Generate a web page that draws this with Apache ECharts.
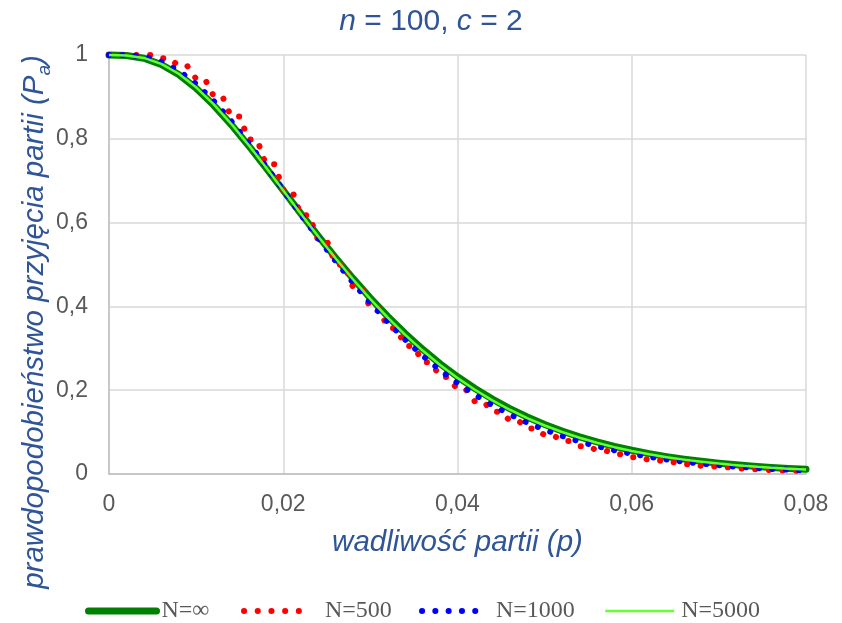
<!DOCTYPE html>
<html>
<head>
<meta charset="utf-8">
<script src="https://cdn.jsdelivr.net/npm/echarts@6/dist/echarts.min.js"></script>
<style>
html,body{margin:0;padding:0;background:#ffffff;}
#chart{width:842px;height:623px;}
</style>
</head>
<body>
<div id="chart"></div>
<script>
// ---- data ----
const pFine = [0,0.001,0.002,0.003,0.004,0.005,0.006,0.007,0.008,0.009,0.010,0.011,0.012,0.013,0.014,0.015,0.016,0.017,0.018,0.019,0.020,0.021,0.022,0.023,0.024,0.025,0.026,0.027,0.028,0.029,0.030,0.031,0.032,0.033,0.034,0.035,0.036,0.037,0.038,0.039,0.040,0.041,0.042,0.043,0.044,0.045,0.046,0.047,0.048,0.049,0.050,0.051,0.052,0.053,0.054,0.055,0.056,0.057,0.058,0.059,0.060,0.061,0.062,0.063,0.064,0.065,0.066,0.067,0.068,0.069,0.070,0.071,0.072,0.073,0.074,0.075,0.076,0.077,0.078,0.079,0.080];
const pCoarse = [0,0.002,0.004,0.006,0.008,0.010,0.012,0.014,0.016,0.018,0.020,0.022,0.024,0.026,0.028,0.030,0.032,0.034,0.036,0.038,0.040,0.042,0.044,0.046,0.048,0.050,0.052,0.054,0.056,0.058,0.060,0.062,0.064,0.066,0.068,0.070,0.072,0.074,0.076,0.078,0.080];

const paInf = [1,0.99888,0.99225,0.97730,0.95327,0.92063,0.88054,0.83453,0.78421,0.73112,0.67669,0.62212,0.56844,0.51645,0.46674,0.41977,0.37583,0.33507,0.29756,0.26328,0.23214,0.20403,0.17877,0.15619,0.13609,0.11826,0.10252,0.08867,0.07651,0.06588,0.05661,0.04855,0.04156,0.03551,0.03029,0.02579,0.02192,0.01861,0.01577,0.01334,0.01127];
const pa500 = [1,1,1,1,1,1,0.99219,0.99219,0.97334,0.97334,0.94301,0.94301,0.90236,0.90236,0.85336,0.85336,0.79826,0.79826,0.73927,0.73927,0.67841,0.67841,0.61741,0.61741,0.55763,0.55763,0.50016,0.50016,0.44577,0.44577,0.39497,0.39497,0.34808,0.34808,0.30523,0.30523,0.26642,0.26642,0.23156,0.23156,0.20044,0.20044,0.17286,0.17286,0.14855,0.14855,0.12723,0.12723,0.10863,0.10863,0.09247,0.09247,0.07849,0.07849,0.06645,0.06645,0.05611,0.05611,0.04727,0.04727,0.03972,0.03972,0.03331,0.03331,0.02787,0.02787,0.02327,0.02327,0.01939,0.01939,0.01613,0.01613,0.01339,0.01339,0.01109,0.01109,0.00918,0.00918,0.00758,0.00758,0.00625];
const pa1000 = [1,1,0.99639,0.98448,0.96256,0.93077,0.89029,0.84286,0.79034,0.73457,0.67723,0.61973,0.56327,0.50871,0.45684,0.40811,0.36273,0.32093,0.28277,0.24815,0.21700,0.18907,0.16420,0.14217,0.12271,0.10564,0.09070,0.07767,0.06637,0.05657,0.04812,0.04084,0.03459,0.02924,0.02468,0.02079,0.01747,0.01467,0.01230,0.01029,0.00860];
const pa5000 = [1,0.99899,0.99300,0.97874,0.95522,0.92280,0.88266,0.83636,0.78557,0.73191,0.67680,0.62166,0.56739,0.51487,0.46471,0.41736,0.37314,0.33218,0.29454,0.26020,0.22906,0.20101,0.17584,0.15338,0.13343,0.11576,0.10019,0.08651,0.07453,0.06407,0.05497,0.04707,0.04023,0.03432,0.02923,0.02485,0.02109,0.01788,0.01513,0.01278,0.01078];

const xTickLabels = ['0','0,02','0,04','0,06','0,08'];
const yTickLabels = ['0','0,2','0,4','0,6','0,8','1'];
const seriesNames = ['N=\u221E','N=500','N=1000','N=5000'];

const titleText = '{i|n} = 100, {i|c} = 2';
const xAxisTitle = 'wadliwość partii (p)';
const yAxisTitleMain = 'prawdopodobieństwo przyjęcia partii (P';
const yAxisTitleSub = 'a';

function pairs(xs, ys) { return xs.map(function (x, i) { return [x, ys[i]]; }); }

const TITLE_BLUE = '#2F5597';
const GRAY_TXT = '#595959';
const SANS = 'Liberation Sans, Arial, sans-serif';
const SERIF = 'Liberation Serif, Times New Roman, serif';

const chart = echarts.init(document.getElementById('chart'), null, {renderer: 'canvas'});

function legendBox(name, left, width, lineW, padLeft) {
  return {
    data: [{name: name}],
    left: left, top: 599,
    orient: 'horizontal',
    padding: 0, itemGap: 0,
    itemWidth: width, itemHeight: 24,
    selectedMode: false,
    lineStyle: {width: lineW},
    itemStyle: {color: 'rgba(0,0,0,0)', borderWidth: 0, opacity: 0},
    textStyle: {fontFamily: SERIF, fontSize: 24, lineHeight: 24, color: GRAY_TXT, padding: [0, 0, 0, padLeft]}
  };
}

const option = {
  animation: false,
  backgroundColor: '#ffffff',
  grid: {left: 109, right: 36, top: 55, bottom: 149},
  xAxis: {
    type: 'value', min: 0, max: 0.08, interval: 0.02,
    axisLine: {show: true, onZero: false, lineStyle: {color: '#bfbfbf', width: 1.5}},
    axisTick: {show: false},
    axisLabel: {margin: 19, color: GRAY_TXT, fontSize: 23, fontFamily: SANS,
      formatter: function (v) { return xTickLabels[Math.round(v / 0.02)]; }},
    splitLine: {show: true, lineStyle: {color: '#d9d9d9', width: 1.5}}
  },
  yAxis: {
    type: 'value', min: 0, max: 1, interval: 0.2,
    axisLine: {show: true, lineStyle: {color: '#bfbfbf', width: 1.5}},
    axisTick: {show: false},
    axisLabel: {margin: 21, color: GRAY_TXT, fontSize: 23, fontFamily: SANS,
      formatter: function (v) { return yTickLabels[Math.round(v / 0.2)]; }},
    splitLine: {show: true, lineStyle: {color: '#d9d9d9', width: 1.5}}
  },
  legend: [
    legendBox(seriesNames[0], 85, 68, 7, 0),
    legendBox(seriesNames[1], 241, 56, 6, 20),
    legendBox(seriesNames[2], 419, 54, 6, 15),
    legendBox(seriesNames[3], 604, 69, 2.5, 2)
  ],
  graphic: [
    {type: 'text', x: 431, y: 22, silent: true,
      style: {text: titleText, align: 'center', verticalAlign: 'middle',
        fontSize: 30, fontFamily: SANS, fill: TITLE_BLUE,
        rich: {i: {fontSize: 30, fontFamily: SANS, fontStyle: 'italic', fill: TITLE_BLUE}}}},
    {type: 'text', x: 457.5, y: 543, silent: true,
      style: {text: xAxisTitle, align: 'center', verticalAlign: 'middle',
        fontSize: 29.5, fontFamily: SANS, fontStyle: 'italic', fill: TITLE_BLUE}},
    {type: 'text', x: 35, y: 322, rotation: Math.PI / 2, silent: true,
      style: {text: '{m|' + yAxisTitleMain + '}{s|' + yAxisTitleSub + '}{m|)}', align: 'center', verticalAlign: 'middle',
        fontSize: 29.5, fontFamily: SANS, fontStyle: 'italic', fill: TITLE_BLUE,
        rich: {
          m: {fontSize: 29.5, fontFamily: SANS, fontStyle: 'italic', fill: TITLE_BLUE, lineHeight: 38, verticalAlign: 'middle'},
          s: {fontSize: 19, fontFamily: SANS, fontStyle: 'italic', fill: TITLE_BLUE, verticalAlign: 'bottom'}
        }}}
  ],
  series: [
    {name: seriesNames[0], type: 'line', data: pairs(pCoarse, paInf), symbol: 'none', clip: false,
      lineStyle: {color: '#008000', width: 7, cap: 'round', join: 'round'}, itemStyle: {color: '#008000'}},
    {name: seriesNames[1], type: 'line', data: pairs(pFine, pa500), symbol: 'none', clip: false,
      lineStyle: {color: '#FF0000', width: 6, type: [0.1, 13.6], cap: 'round', join: 'round'}, itemStyle: {color: '#FF0000'}},
    {name: seriesNames[2], type: 'line', data: pairs(pCoarse, pa1000), symbol: 'none', clip: false,
      lineStyle: {color: '#0000FF', width: 6, type: [0.1, 13.2], cap: 'round', join: 'round'}, itemStyle: {color: '#0000FF'}},
    {name: seriesNames[3], type: 'line', data: pairs(pCoarse, pa5000), symbol: 'none', clip: false,
      lineStyle: {color: '#66FF33', width: 2.5, join: 'round'}, itemStyle: {color: '#66FF33'}}
  ]
};
chart.setOption(option);
</script>
</body>
</html>
